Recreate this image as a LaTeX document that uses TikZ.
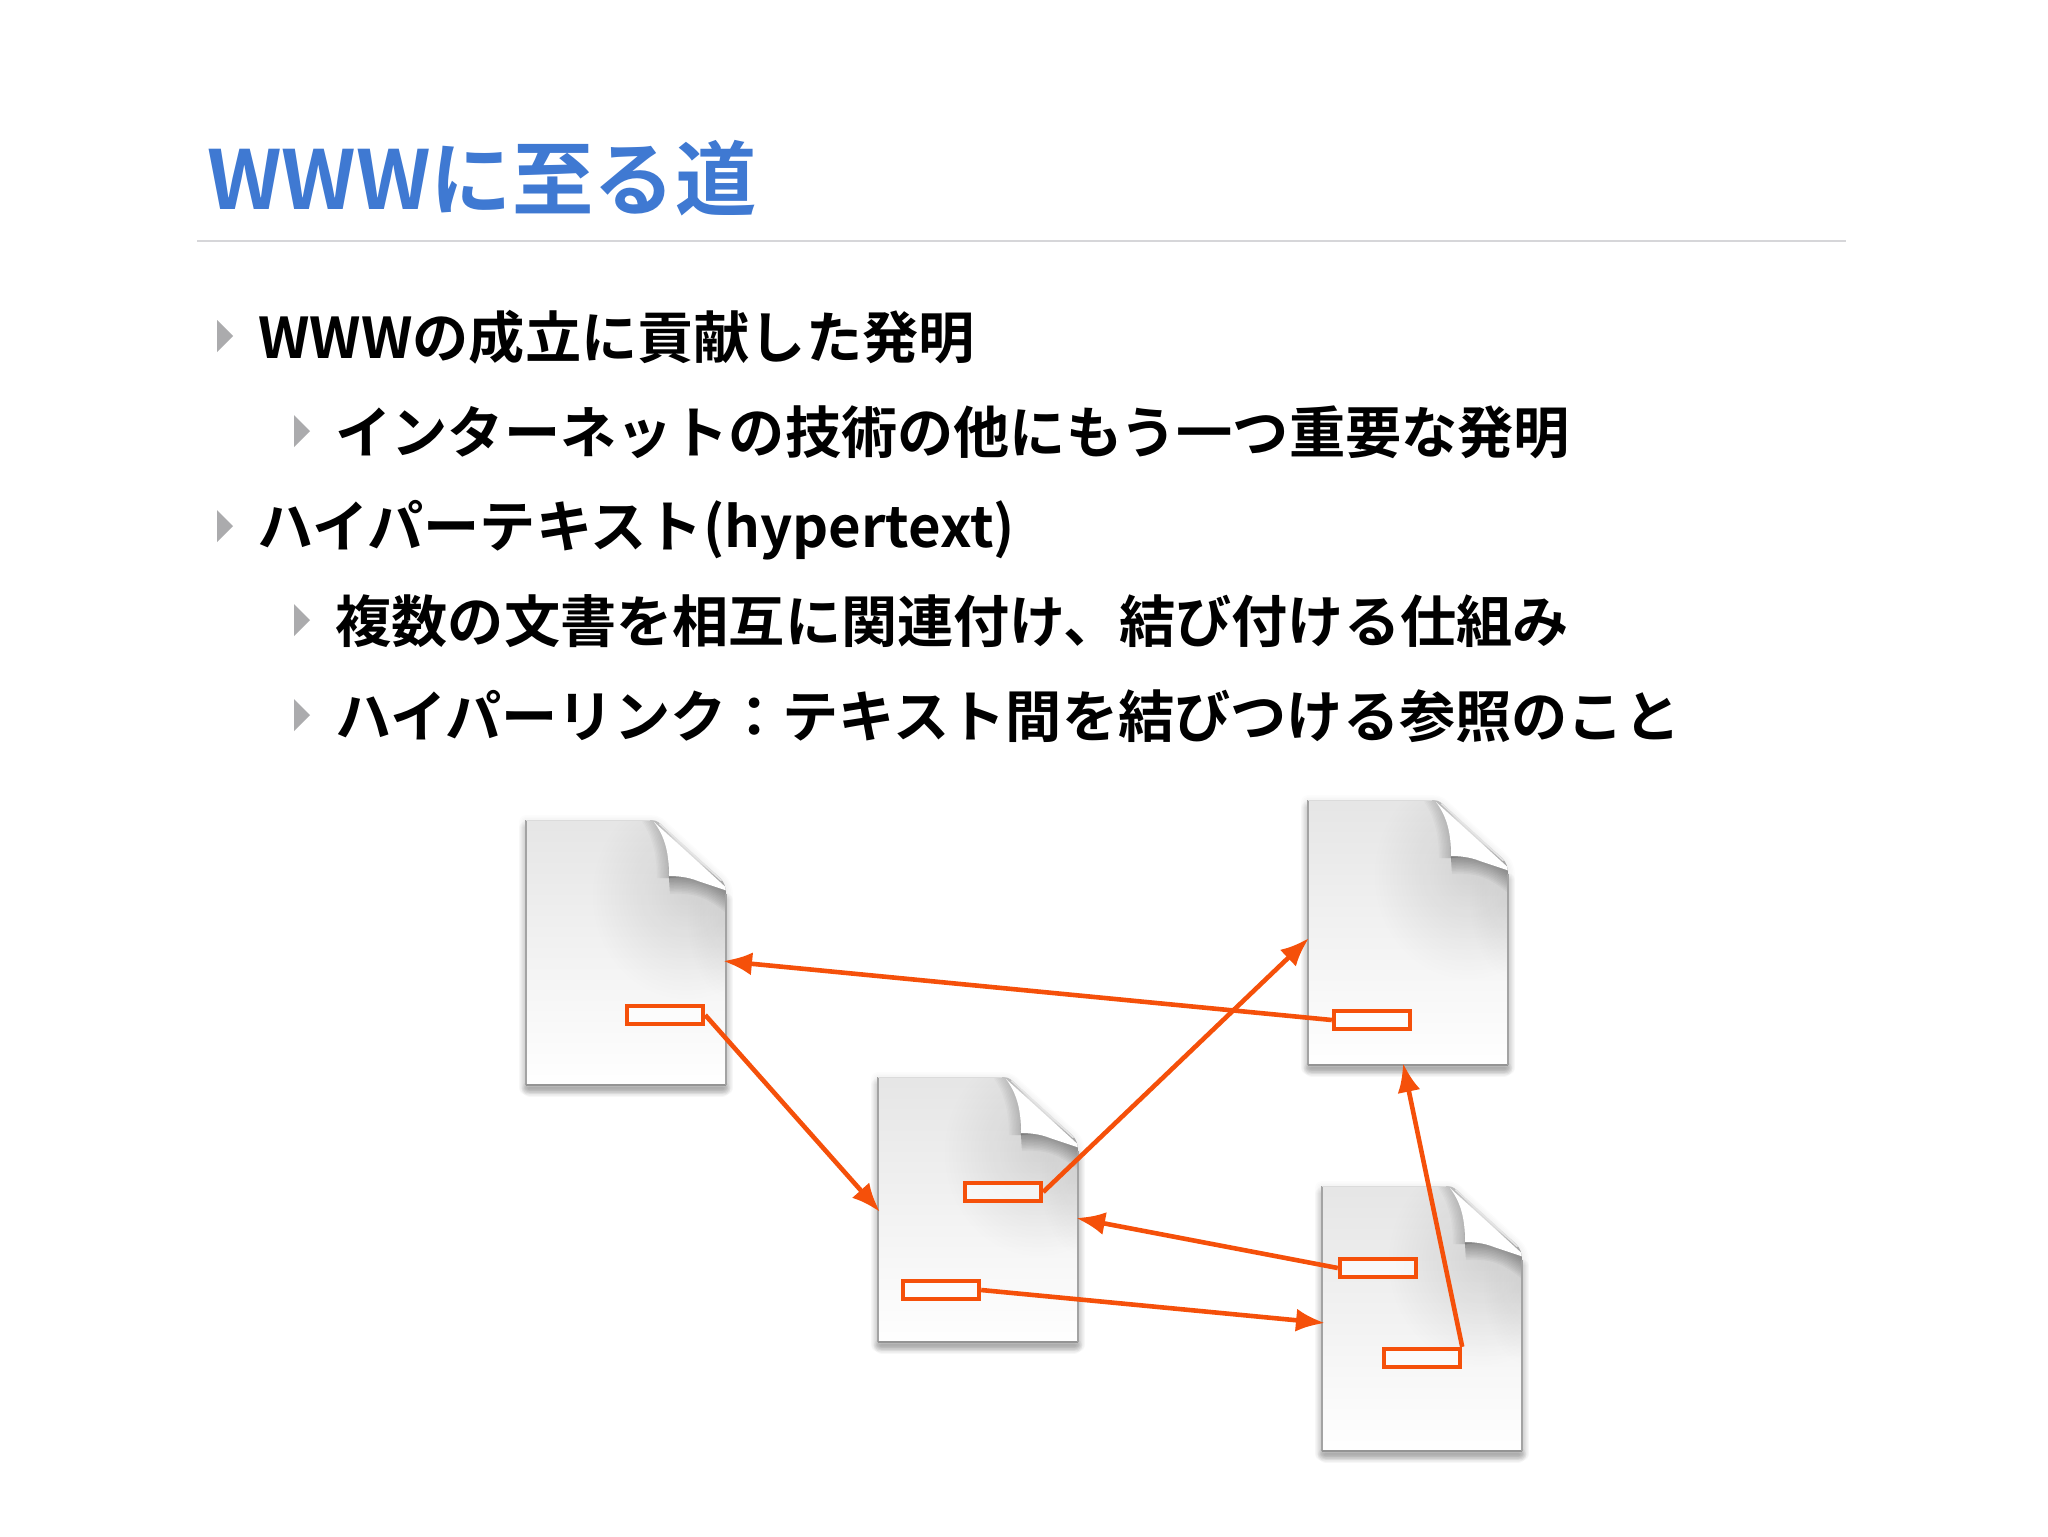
\documentclass[tikz,border=0pt]{standalone}
\usepackage{fontspec}
\setmainfont{Noto Sans CJK JP}[BoldFont={Noto Sans CJK JP Bold}]
\usetikzlibrary{arrows.meta,fadings}
\definecolor{titleblue}{HTML}{3F79D2}
\definecolor{linkorange}{HTML}{F5500A}
\definecolor{rulegray}{HTML}{D6D6D9}
\definecolor{bulletgray}{HTML}{ABABAD}
\tikzfading[name=softdot,inner color=transparent!0,outer color=transparent!100]
\tikzset{
  x=0.5pt,y=-0.5pt,
  titletext/.style={anchor=base west,inner sep=0pt,text=titleblue,font=\fontsize{40.7pt}{48pt}\selectfont\bfseries},
  bodytext/.style={anchor=base west,inner sep=0pt,text=black,font=\fontsize{28.1pt}{34pt}\selectfont\bfseries},
  linkbox/.style={draw=linkorange,line width=2.2pt,fill=white,fill opacity=0.65,minimum width=38pt,minimum height=9pt,inner sep=0pt},
  linkarrow/.style={draw=linkorange,line width=2.3pt,-{Latex[length=14.5pt,width=11.5pt]}},
  bulletmark/.pic={\fill[bulletgray] (-8,-16) -- (8,0) -- (-8,16) -- cycle;},
  docicon/.pic={
    \def\docpath{(0,0) -- (124,0) .. controls (131,0) and (134,3) .. (138,7) -- (194,58) .. controls (198,62) and (200,67) .. (200,74) -- (200,265) -- (0,265) -- cycle}
    % faint halo that follows the outline of the sheet
    \foreach \w in {14,11,...,2}{
      \draw[black,opacity=0.012,line width=\w*0.5pt,line join=round,shift={(0,2)}] \docpath;
    }
    % left and right shadow, fading out at the top through round caps
    \foreach \w in {14,12,...,2}{
      \draw[black,opacity=0.02,line width=\w*0.5pt,line cap=round,line join=round] (0,8) -- (0,268) -- (200,268) -- (200,80);
    }
    % stronger shadow under the sheet
    \foreach \w in {16,13,...,4}{
      \draw[black,opacity=0.03,line width=\w*0.5pt,line cap=round] (4,269) -- (196,269);
    }
    \begin{scope}
      \clip \docpath;
      \shade[top color=black!10,middle color=black!1.5,bottom color=black!0.2] (0,0) rectangle (200,265);
      % broad soft shadow around the folded corner
      \fill[black,opacity=0.10,path fading=softdot] (160,75) ellipse [x radius=95,y radius=105];
      \fill[black,opacity=0.07,path fading=softdot] (205,95) ellipse [x radius=45,y radius=85];
      % dark shadow just under and beside the fold
      \foreach \w in {32,29,...,2}{
        \draw[black,opacity=0.03,line width=\w*0.5pt] (143,58) .. controls (170,56) and (190,62) .. (215,85);
      }
      \foreach \w in {24,21,...,3}{
        \draw[black,opacity=0.018,line width=\w*0.5pt] (126,-5) .. controls (140,15) and (143,40) .. (143,58);
      }
      \fill[white] (128,2) -- (205,72) -- (172,61) .. controls (162,57) and (152,56) .. (143,56) .. controls (143,35) and (140,18) .. (128,2) -- cycle;
      \draw[black!10,line width=1.5pt] (134,3) -- (196,60);
    \end{scope}
    \draw[black!36,line width=1pt] (0,0) -- (0,265);
    \draw[black!42,line width=1pt] (0,265) -- (200,265);
    \draw[black!36,line width=1pt] (200,265) -- (200,74);
    \draw[black!14,line width=0.5pt] (0,0) -- (124,0);
    \node[minimum width=100pt,minimum height=132.5pt,inner sep=0pt,anchor=north west] (-box) at (0,0) {};
  }
}
\begin{document}
\begin{tikzpicture}
\useasboundingbox (0,0) rectangle (2048,1536);
\fill[white] (0,0) rectangle (2048,1536);

\node[titletext] (title) at (207,209) {WWWに至る道};
\draw[rulegray,line width=1.3pt] (197,241) -- (1846,241);

\pic at (225,336) {bulletmark};
\node[bodytext] (b1) at (258,358) {WWWの成立に貢献した発明};
\pic at (302,431) {bulletmark};
\node[bodytext] (b2) at (335,453) {インターネットの技術の他にもう一つ重要な発明};
\pic at (225,526) {bulletmark};
\node[bodytext] (b3) at (257,547) {ハイパーテキスト(hypertext)};
\pic at (302,620) {bulletmark};
\node[bodytext] (b4) at (335,642) {複数の文書を相互に関連付け、結び付ける仕組み};
\pic at (302,715) {bulletmark};
\node[bodytext] (b5) at (335,737) {ハイパーリンク：テキスト間を結びつける参照のこと};

\pic (d1) at (526,820) {docicon};
\pic (d2) at (878,1077) {docicon};
\pic (d3) at (1308,800) {docicon};
\pic (d4) at (1322,1186) {docicon};

\node[linkbox] (l1) at (665,1015) {};
\node[linkbox] (l2a) at (1003,1192) {};
\node[linkbox] (l2b) at (941,1290) {};
\node[linkbox] (l3) at (1372,1020) {};
\node[linkbox] (l4a) at (1378,1268) {};
\node[linkbox] (l4b) at (1422,1358) {};

\coordinate (t1) at (723,961);
\coordinate (t2) at (880,1212);
\coordinate (t3) at (1309,938);
\coordinate (t4) at (1076,1218);
\coordinate (t5) at (1325,1323);
\coordinate (t6) at (1403,1063);

\draw[linkarrow] (l3.west) -- (t1);
\draw[linkarrow] (l1.east) -- (t2);
\draw[linkarrow] (l2a.east) -- (t3);
\draw[linkarrow] (l4a.west) -- (t4);
\draw[linkarrow] (l2b.east) -- (t5);
\draw[linkarrow] (l4b.north east) -- (t6);
\end{tikzpicture}
\end{document}
